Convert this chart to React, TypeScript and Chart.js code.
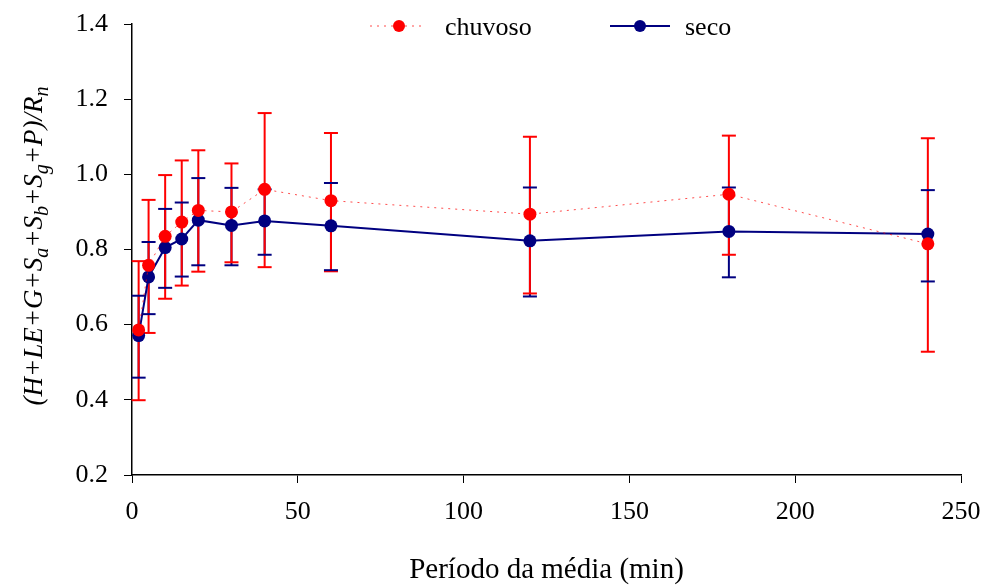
import React, { useEffect, useRef } from "react";
import { Chart, registerables } from "chart.js";

Chart.register(...registerables);

const periods = [2, 5, 10, 15, 20, 30, 40, 60, 120, 180, 240];

const chuvoso = [0.586, 0.758, 0.835, 0.873, 0.904, 0.9, 0.96, 0.93, 0.894, 0.947, 0.815];
const chuvosoUpper = [0.769, 0.932, 0.998, 1.037, 1.064, 1.029, 1.163, 1.11, 1.1, 1.103, 1.096];
const chuvosoLower = [0.399, 0.578, 0.669, 0.704, 0.741, 0.766, 0.753, 0.742, 0.683, 0.786, 0.528];

const seco = [0.571, 0.727, 0.805, 0.828, 0.878, 0.864, 0.876, 0.863, 0.823, 0.848, 0.841];
const secoUpper = [0.677, 0.82, 0.908, 0.925, 0.99, 0.964, 0.96, 0.977, 0.965, 0.965, 0.958];
const secoLower = [0.459, 0.628, 0.698, 0.728, 0.758, 0.758, 0.786, 0.745, 0.675, 0.726, 0.715];

const seriesNames = ["chuvoso", "seco"];
const xTitle = "Período da média (min)";
const yTitleParts: { t: string; sub: boolean }[] = [
  { t: "(H+LE+G+S", sub: false },
  { t: "a", sub: true },
  { t: "+S", sub: false },
  { t: "b", sub: true },
  { t: "+S", sub: false },
  { t: "g", sub: true },
  { t: "+P)/R", sub: false },
  { t: "n", sub: true },
];

const RED = "#FF0000";
const NAVY = "#000080";
const SERIF = '"Liberation Serif", "Times New Roman", serif';

const errorBars = {
  id: "errorBars",
  beforeDatasetsDraw(chart: any) {
    const { ctx, scales } = chart;
    const xs = scales.x;
    const ys = scales.y;
    const cap = 7;
    const drawLines = (lo: number[], hi: number[], color: string) => {
      ctx.save();
      ctx.strokeStyle = color;
      ctx.lineWidth = 2;
      periods.forEach((p, i) => {
        const x = xs.getPixelForValue(p);
        ctx.beginPath();
        ctx.moveTo(x, ys.getPixelForValue(lo[i]));
        ctx.lineTo(x, ys.getPixelForValue(hi[i]));
        ctx.stroke();
      });
      ctx.restore();
    };
    const drawCaps = (lo: number[], hi: number[], color: string) => {
      ctx.save();
      ctx.strokeStyle = color;
      ctx.lineWidth = 2;
      periods.forEach((p, i) => {
        const x = xs.getPixelForValue(p);
        [lo[i], hi[i]].forEach((v) => {
          const y = ys.getPixelForValue(v);
          ctx.beginPath();
          ctx.moveTo(x - cap, y);
          ctx.lineTo(x + cap, y);
          ctx.stroke();
        });
      });
      ctx.restore();
    };
    drawLines(secoLower, secoUpper, NAVY);
    drawLines(chuvosoLower, chuvosoUpper, RED);
    drawCaps(chuvosoLower, chuvosoUpper, RED);
    drawCaps(secoLower, secoUpper, NAVY);
  },
};

const decorations = {
  id: "decorations",
  afterDraw(chart: any) {
    const { ctx, chartArea } = chart;
    ctx.save();
    // X title
    ctx.fillStyle = "#000";
    ctx.font = `29px ${SERIF}`;
    ctx.textAlign = "center";
    ctx.textBaseline = "alphabetic";
    ctx.fillText(xTitle, (chartArea.left + chartArea.right) / 2, 578);

    // Y title with subscripts
    const mainFont = `italic 27px ${SERIF}`;
    const subFont = `italic 20px ${SERIF}`;
    let total = 0;
    yTitleParts.forEach((s) => {
      ctx.font = s.sub ? subFont : mainFont;
      total += ctx.measureText(s.t).width;
    });
    ctx.translate(42, 246);
    ctx.rotate(-Math.PI / 2);
    ctx.textAlign = "left";
    let cx = -total / 2;
    yTitleParts.forEach((s) => {
      ctx.font = s.sub ? subFont : mainFont;
      ctx.fillText(s.t, cx, s.sub ? 6 : 0);
      cx += ctx.measureText(s.t).width;
    });
    ctx.restore();

    // Legend
    ctx.save();
    const ly = 26;
    ctx.strokeStyle = "rgba(255,0,0,0.7)";
    ctx.lineWidth = 1;
    ctx.setLineDash([2, 5]);
    ctx.beginPath();
    ctx.moveTo(370, ly);
    ctx.lineTo(426, ly);
    ctx.stroke();
    ctx.setLineDash([]);
    ctx.fillStyle = RED;
    ctx.beginPath();
    ctx.arc(399, ly, 6, 0, Math.PI * 2);
    ctx.fill();
    ctx.strokeStyle = NAVY;
    ctx.lineWidth = 2;
    ctx.beginPath();
    ctx.moveTo(610, ly);
    ctx.lineTo(670, ly);
    ctx.stroke();
    ctx.fillStyle = NAVY;
    ctx.beginPath();
    ctx.arc(640, ly, 6, 0, Math.PI * 2);
    ctx.fill();
    ctx.fillStyle = "#000";
    ctx.font = `26px ${SERIF}`;
    ctx.textAlign = "left";
    ctx.textBaseline = "alphabetic";
    ctx.fillText(seriesNames[0], 445, 35);
    ctx.fillText(seriesNames[1], 685, 35);
    ctx.restore();
  },
};

const zeroPad = (s: any) => {
  s.paddingTop = 0;
  s.paddingBottom = 0;
  s.paddingLeft = 0;
  s.paddingRight = 0;
};

export default function App() {
  const ref = useRef<HTMLCanvasElement | null>(null);
  useEffect(() => {
    document.body.style.margin = "0";
    if (!ref.current) return;
    const chart = new Chart(ref.current, {
      type: "line",
      data: {
        datasets: [
          {
            label: seriesNames[0],
            data: periods.map((p, i) => ({ x: p, y: chuvoso[i] })),
            borderColor: "rgba(255,0,0,0.7)",
            borderWidth: 1,
            borderDash: [2, 5],
            pointRadius: 6.5,
            pointBackgroundColor: RED,
            pointBorderWidth: 0,
            pointBorderColor: RED,
            fill: false,
            tension: 0,
            order: 0,
          },
          {
            label: seriesNames[1],
            data: periods.map((p, i) => ({ x: p, y: seco[i] })),
            borderColor: NAVY,
            borderWidth: 2,
            pointRadius: 6.5,
            pointBackgroundColor: NAVY,
            pointBorderWidth: 0,
            pointBorderColor: NAVY,
            fill: false,
            tension: 0,
            order: 1,
          },
        ],
      },
      options: {
        responsive: false,
        animation: false,
        devicePixelRatio: 1,
        layout: { padding: { top: 24, right: 28, left: 0, bottom: 0 } },
        plugins: {
          legend: { display: false },
          tooltip: { enabled: false },
        },
        scales: {
          x: {
            type: "linear",
            min: 0,
            max: 250,
            afterFit: (s: any) => {
              s.height = 110;
              zeroPad(s);
            },
            ticks: {
              stepSize: 50,
              color: "#000",
              padding: 14,
              font: { family: SERIF, size: 26 },
              maxRotation: 0,
            },
            grid: {
              display: true,
              drawOnChartArea: false,
              drawTicks: true,
              tickLength: 8,
              color: "#000",
              lineWidth: 1,
            },
            border: { display: true, color: "#000", width: 1.5 },
          },
          y: {
            type: "linear",
            min: 0.2,
            max: 1.4,
            afterFit: (s: any) => {
              s.width = 132;
              zeroPad(s);
            },
            ticks: {
              stepSize: 0.2,
              color: "#000",
              padding: 16,
              font: { family: SERIF, size: 26 },
              callback: (v: any) => Number(v).toFixed(1),
            },
            grid: {
              display: true,
              drawOnChartArea: false,
              drawTicks: true,
              tickLength: 8,
              color: "#000",
              lineWidth: 1,
            },
            border: { display: true, color: "#000", width: 1.5 },
          },
        },
      },
      plugins: [errorBars, decorations],
    });
    return () => chart.destroy();
  }, []);
  return (
    <div style={{ position: "absolute", left: 0, top: 0, width: 989, height: 585, background: "#fff" }}>
      <canvas ref={ref} width={989} height={585} style={{ display: "block" }} />
    </div>
  );
}
